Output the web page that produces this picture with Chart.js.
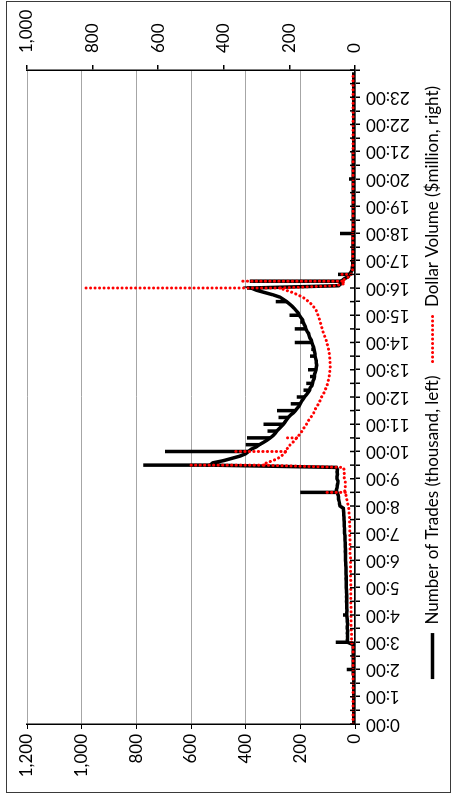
<!DOCTYPE html>
<html>
<head>
<meta charset="utf-8">
<script src="https://cdn.jsdelivr.net/npm/chart.js@4.4.1/dist/chart.umd.min.js"></script>
<style>
  html, body { margin: 0; padding: 0; background: #fff; overflow: hidden; }
  /* chart is drawn landscape, then turned a quarter to the left */
  #wrap { position: absolute; left: 0; top: 0; width: 797px; height: 451px;
          transform-origin: 0 0; transform: translate(0, 797px) rotate(-90deg); }
  #frame { position: absolute; left: 4px; top: 6px; width: 790px; height: 443px;
           border: 1px solid #3a3a3a; }
  canvas { position: absolute; left: 0; top: 0; }
</style>
</head>
<body>
<div id="wrap">
  <div id="frame"></div>
  <canvas id="chart" width="797" height="451"></canvas>
</div>
<script>
// 5-minute bins, one row per hour (:00 ... :55)
const trades = [
  5, 5, 5, 5, 5, 5, 5, 5, 5, 5, 5, 5,
  5, 5, 5, 5, 5, 5, 5, 5, 5, 5, 6, 6,
  6, 6, 6, 6, 6, 6, 6, 6, 6, 6, 6, 8,
  27, 28, 27, 27, 28, 27, 28, 28, 27, 28, 28, 29,
  30, 30, 29, 30, 30, 30, 31, 30, 31, 30, 31, 31,
  32, 32, 32, 32, 33, 32, 33, 33, 33, 33, 34, 34,
  35, 35, 35, 35, 36, 35, 36, 36, 36, 37, 37, 37,
  38, 38, 38, 39, 39, 39, 40, 40, 41, 41, 42, 43,
  55, 57, 58, 60, 60, 62, 66, 68, 66, 65, 63, 62,
  66, 66, 64, 66, 64, 68, 530, 520, 480, 450, 420, 400,
  390, 380, 362, 350, 335, 322, 310, 300, 292, 286, 278, 270,
  262, 256, 250, 244, 236, 226, 218, 212, 205, 200, 196, 190,
  185, 178, 172, 166, 164, 158, 155, 154, 150, 148, 148, 145,
  143, 142, 140, 142, 142, 144, 146, 146, 148, 150, 152, 155,
  158, 160, 165, 168, 170, 176, 180, 182, 186, 190, 192, 198,
  204, 208, 215, 222, 230, 240, 250, 262, 275, 300, 330, 360,
  380, 60, 50, 50, 40, 25, 20, 15, 10, 10, 8, 8,
  8, 7, 7, 7, 7, 7, 7, 7, 7, 7, 7, 7,
  7, 7, 6, 6, 6, 6, 6, 6, 6, 6, 6, 6,
  6, 6, 6, 6, 6, 6, 6, 6, 6, 6, 6, 6,
  6, 6, 6, 6, 6, 6, 6, 6, 6, 6, 6, 6,
  6, 5, 5, 5, 5, 5, 5, 5, 5, 5, 5, 5,
  5, 5, 5, 5, 5, 5, 5, 5, 5, 5, 5, 5,
  5, 5, 5, 5, 5, 5, 5, 5, 5, 5, 5, 5
];
const dollarVolume = [
  6, 6, 6, 6, 6, 6, 6, 6, 6, 6, 6, 6,
  6, 6, 6, 6, 6, 6, 6, 6, 6, 6, 6, 6,
  6, 6, 6, 6, 6, 6, 6, 6, 6, 6, 6, 7,
  11, 11, 11, 11, 11, 11, 12, 12, 12, 12, 12, 12,
  12, 12, 12, 12, 12, 13, 13, 13, 13, 13, 13, 13,
  13, 13, 13, 13, 14, 14, 14, 14, 14, 14, 14, 14,
  14, 14, 14, 15, 15, 15, 15, 15, 15, 15, 16, 16,
  16, 16, 16, 16, 17, 17, 17, 17, 18, 18, 18, 19,
  20, 22, 24, 25, 26, 28, 30, 32, 30, 30, 30, 30,
  32, 34, 32, 34, 33, 36, 280, 270, 250, 235, 225, 215,
  212, 210, 200, 198, 190, 183, 178, 172, 165, 162, 158, 152,
  148, 145, 140, 135, 130, 126, 122, 120, 115, 112, 108, 104,
  102, 98, 94, 92, 88, 85, 84, 82, 80, 79, 78, 77,
  77, 76, 75, 76, 76, 77, 78, 78, 80, 81, 82, 84,
  87, 88, 90, 93, 96, 98, 100, 102, 104, 106, 108, 110,
  113, 114, 118, 122, 128, 134, 142, 150, 160, 175, 190, 210,
  230, 60, 30, 40, 30, 18, 12, 10, 8, 8, 7, 7,
  7, 7, 7, 7, 7, 7, 7, 7, 7, 7, 7, 7,
  7, 7, 6, 6, 6, 6, 6, 6, 6, 6, 6, 6,
  6, 6, 6, 6, 6, 6, 6, 6, 6, 6, 6, 6,
  6, 6, 6, 6, 6, 6, 6, 6, 6, 6, 6, 6,
  6, 6, 6, 6, 6, 6, 6, 6, 6, 6, 6, 6,
  6, 6, 6, 6, 6, 6, 6, 6, 6, 6, 6, 6,
  6, 6, 6, 6, 6, 6, 6, 6, 6, 6, 6, 6
];
const minutes = trades.map((v, i) => i * 5);   // time of each bin

// one-minute bursts on top of the 5-minute curve
const tradeSpikeTimes = ['2:00', '3:00', '4:00', '8:30', '9:30', '10:00', '10:15', '10:30', '10:45',
  '11:00', '11:15', '11:30', '11:45', '12:00', '12:15', '12:30', '12:45', '13:00', '13:30', '13:45',
  '14:00', '14:30', '14:45', '15:00', '15:30', '16:00', '16:15', '16:30', '18:00', '20:00'];
const tradeSpikes = [30, 70, 44, 200, 775, 695, 400, 395, 320,
  335, 280, 285, 235, 213, 188, 178, 165, 172, 165, 160,
  220, 220, 200, 240, 290, 395, 385, 62, 55, 22];
const volumeSpikeTimes = ['2:00', '3:00', '8:30', '9:30', '10:00', '10:30', '16:00', '16:15', '16:30', '18:00'];
const volumeSpikes = [10, 14, 86, 505, 370, 215, 830, 350, 40, 15];

const tradeTicks = [0, 200, 400, 600, 800, 1000, 1200];
const volumeTicks = [0, 200, 400, 600, 800, 1000];

const FONT = { family: 'Lato', size: 17 };

function toMinutes(t) {
  const [h, m] = t.split(':').map(Number);
  return h * 60 + m;
}

// each burst: up from the curve value at that minute, then a gap
function spikePoints(times, peaks, base) {
  const pts = [];
  times.forEach((t, i) => {
    const m = toMinutes(t);
    pts.push({ x: m, y: base[m / 5] }, { x: m, y: peaks[i] }, { x: m, y: null });
  });
  return pts;
}

// tick marks that cross the time axis
const crossTicks = {
  id: 'crossTicks',
  afterDatasetsDraw(chart) {
    const x = chart.scales.x, ctx = chart.ctx, y0 = chart.chartArea.bottom;
    ctx.save();
    ctx.strokeStyle = '#000';
    ctx.lineWidth = 1.5;
    x.ticks.forEach(t => {
      const px = x.getPixelForValue(t.value);
      ctx.beginPath();
      ctx.moveTo(px, y0 - 5);
      ctx.lineTo(px, y0);
      ctx.stroke();
    });
    ctx.restore();
  }
};

// legend sits a little right of centre in the original
const legendShift = {
  id: 'legendShift',
  afterLayout(chart) {
    chart.legend.left += 16;
    chart.legend.right += 16;
  }
};

const blackLine = { borderColor: '#000', backgroundColor: '#000', borderWidth: 3.5, pointRadius: 0, tension: 0, yAxisID: 'y', order: 2 };
const redLine = { borderColor: '#ff0000', backgroundColor: '#ff0000', borderWidth: 3, borderDash: [0.1, 4.4],
  borderCapStyle: 'round', pointRadius: 0, tension: 0, yAxisID: 'y1', order: 1 };

new Chart(document.getElementById('chart'), {
  type: 'line',
  data: {
    datasets: [
      Object.assign({ label: 'Number of Trades (thousand, left)',
        data: trades.map((v, i) => ({ x: minutes[i], y: v })) }, blackLine),
      Object.assign({ label: 'Dollar Volume ($million, right)',
        data: dollarVolume.map((v, i) => ({ x: minutes[i], y: v })) }, redLine),
      Object.assign({ label: 'spikes', spanGaps: false,
        data: spikePoints(tradeSpikeTimes, tradeSpikes, trades) }, blackLine),
      Object.assign({ label: 'spikes', spanGaps: false,
        data: spikePoints(volumeSpikeTimes, volumeSpikes, dollarVolume) }, redLine)
    ]
  },
  options: {
    responsive: false,
    animation: false,
    layout: { padding: { top: 27, left: 8, right: 8, bottom: 0 } },
    plugins: {
      legend: {
        position: 'bottom',
        labels: {
          color: '#000',
          font: FONT,
          usePointStyle: true,
          pointStyleWidth: 46,
          padding: 14,
          filter: item => item.text !== 'spikes',
          sort: (a, b) => a.datasetIndex - b.datasetIndex,
          generateLabels: chart => Chart.defaults.plugins.legend.labels.generateLabels(chart).map(item => {
            const ds = chart.data.datasets[item.datasetIndex];
            item.pointStyle = 'line';
            item.lineDash = ds.borderDash || [];
            item.lineCap = ds.borderCapStyle || 'butt';
            item.lineWidth = ds.borderWidth;
            item.strokeStyle = ds.borderColor;
            return item;
          })
        }
      },
      tooltip: { enabled: false }
    },
    scales: {
      x: {
        type: 'linear',
        min: 0,
        max: 1440,
        afterFit: s => { s.height = 55; },
        grid: { drawOnChartArea: false, tickLength: 5, tickColor: '#000', lineWidth: 1.5 },
        border: { color: '#000', width: 1.5 },
        ticks: {
          stepSize: 30,
          autoSkip: false,
          minRotation: 90,
          maxRotation: 90,
          padding: 6,
          color: '#000',
          font: FONT,
          callback: v => (v % 60 === 0 && v < 1440) ? (v / 60) + ':00' : ''
        }
      },
      y: {
        position: 'left',
        min: 0,
        max: 1200,
        afterFit: s => { s.width = 65; },
        afterBuildTicks: s => { s.ticks = tradeTicks.map(v => ({ value: v })); },
        grid: { color: '#a6a6a6', lineWidth: 1, tickColor: '#000', tickLength: 5 },
        border: { color: '#000', width: 1.5 },
        ticks: { padding: 5, color: '#000', font: FONT, callback: v => v.toLocaleString('en-US') }
      },
      y1: {
        position: 'right',
        min: 0,
        max: 1000,
        afterFit: s => { s.width = 62; },
        afterBuildTicks: s => { s.ticks = volumeTicks.map(v => ({ value: v })); },
        grid: { drawOnChartArea: false, tickColor: '#000', tickLength: 5, lineWidth: 1.5 },
        border: { color: '#000', width: 1.5 },
        ticks: { padding: 12, color: '#000', font: FONT, callback: v => v.toLocaleString('en-US') }
      }
    }
  },
  plugins: [crossTicks, legendShift]
});
</script>
</body>
</html>
